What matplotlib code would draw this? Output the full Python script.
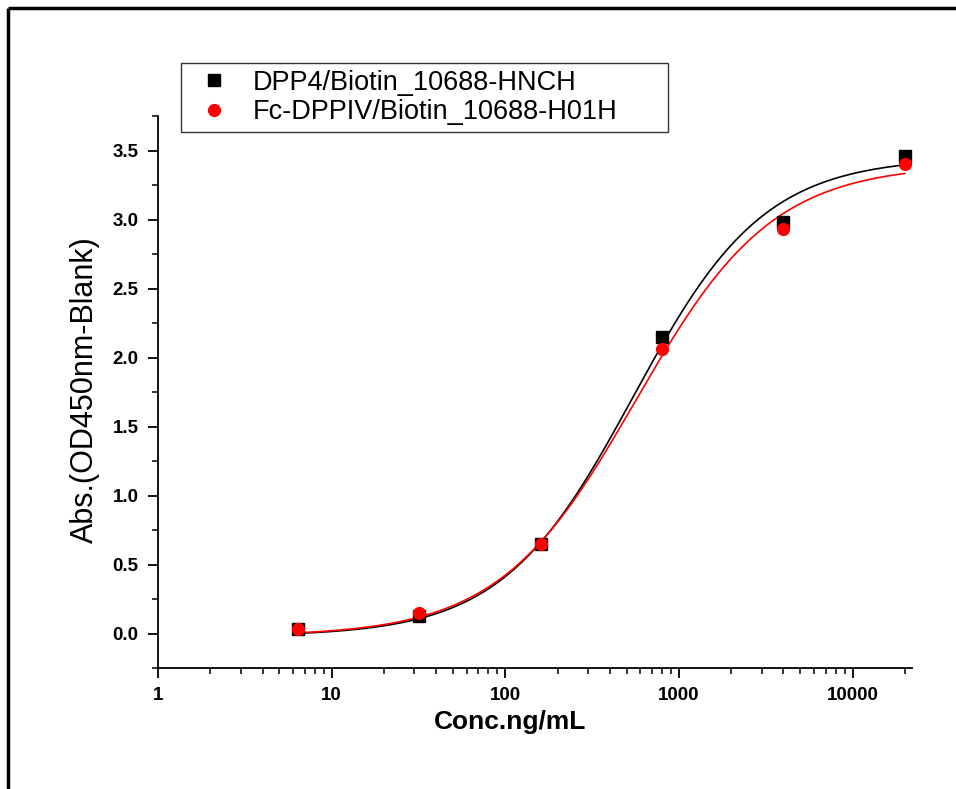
import numpy as np
import matplotlib
matplotlib.use("Agg")
import matplotlib.pyplot as plt
from matplotlib.lines import Line2D
from matplotlib.ticker import FixedLocator, NullFormatter

plt.rcParams['font.family'] = ['Liberation Sans', 'DejaVu Sans']

# measured points
conc = [6.4, 32, 160, 800, 4000, 20000]
abs_hnch = [0.03, 0.13, 0.65, 2.15, 2.98, 3.46]
abs_h01h = [0.03, 0.15, 0.65, 2.06, 2.93, 3.40]

label_hnch = "DPP4/Biotin_10688-HNCH"
label_h01h = "Fc-DPPIV/Biotin_10688-H01H"

# 4PL fit parameters (bottom, top, EC50, hill)
fit_hnch = (-0.02, 3.45, 545, 1.15)
fit_h01h = (-0.02, 3.40, 565, 1.10)

x_ticks = [1, 10, 100, 1000, 10000]
x_tick_labels = ["1", "10", "100", "1000", "10000"]
y_ticks = [0.0, 0.5, 1.0, 1.5, 2.0, 2.5, 3.0, 3.5]


def four_pl(x, p):
    a, d, c, b = p
    return d + (a - d) / (1 + (x / c) ** b)


fig = plt.figure(figsize=(9.56, 7.89), dpi=100)
ax = fig.add_axes([158 / 956, 1 - 668 / 789, (912 - 158) / 956, (668 - 116) / 789])

xs = np.logspace(np.log10(conc[0]), np.log10(conc[-1]), 300)
ax.plot(xs, four_pl(xs, fit_hnch), color="black", lw=1.2, zorder=2)
ax.plot(xs, four_pl(xs, fit_h01h), color="red", lw=1.2, zorder=3)
ax.plot(conc, abs_hnch, "s", color="black", ms=8, zorder=4, label=label_hnch)
ax.plot(conc, abs_h01h, "o", color="red", ms=8.5, zorder=5, label=label_h01h)

ax.set_xscale("log")
ax.set_xlim(1, 22000)
ax.set_ylim(-0.25, 3.75)

ax.xaxis.set_major_locator(FixedLocator(x_ticks))
ax.set_xticklabels(x_tick_labels)
minors = [m * 10 ** e for e in range(0, 5) for m in range(2, 10) if m * 10 ** e < 22000]
ax.xaxis.set_minor_locator(FixedLocator(minors))
ax.xaxis.set_minor_formatter(NullFormatter())
ax.set_yticks(y_ticks)
ax.set_yticklabels([f"{v:.1f}" for v in y_ticks])
ax.set_yticks(np.arange(-0.25, 3.8, 0.5), minor=True)

for s in ["top", "right"]:
    ax.spines[s].set_visible(False)
for s in ["left", "bottom"]:
    ax.spines[s].set_linewidth(1.3)

ax.tick_params(which="major", direction="out", length=7, width=1.3, labelsize=13.5, pad=7)
ax.tick_params(which="minor", direction="out", length=4.5, width=1.1)
for t in ax.get_xticklabels() + ax.get_yticklabels():
    t.set_fontweight("bold")

ax.set_xlabel("Conc.ng/mL", fontsize=19, fontweight="bold")
ax.xaxis.set_label_coords((510 - 158) / 754, -(722 - 668) / 552)
ax.xaxis.label.set_va("center")
ax.set_ylabel("Abs.(OD450nm-Blank)", fontsize=22)
ax.yaxis.set_label_coords(-(158 - 85) / 754, (668 - 390) / 552)
ax.yaxis.label.set_va("center")

leg_x0 = (181 - 158) / 754
leg_w = (668 - 181) / 754
leg_top = (668 - 63) / 552
leg = ax.legend(loc="upper left", bbox_to_anchor=(leg_x0, leg_top - 0.2, leg_w, 0.2),
                mode="expand", fontsize=19.5, frameon=True, fancybox=False,
                edgecolor="black", borderpad=0.25, handletextpad=0.5, labelspacing=0.12,
                handlelength=1.9, borderaxespad=0)
leg.get_frame().set_linewidth(1.0)

# outer frame (top and left edges)
fig.add_artist(Line2D([8 / 956, 8 / 956], [0, 1 - 8 / 789], color="black", lw=2.5,
                      transform=fig.transFigure, solid_capstyle="butt"))
fig.add_artist(Line2D([8 / 956, 1], [1 - 8 / 789, 1 - 8 / 789], color="black", lw=2.5,
                      transform=fig.transFigure, solid_capstyle="butt"))

fig.savefig("out.png", dpi=100)
